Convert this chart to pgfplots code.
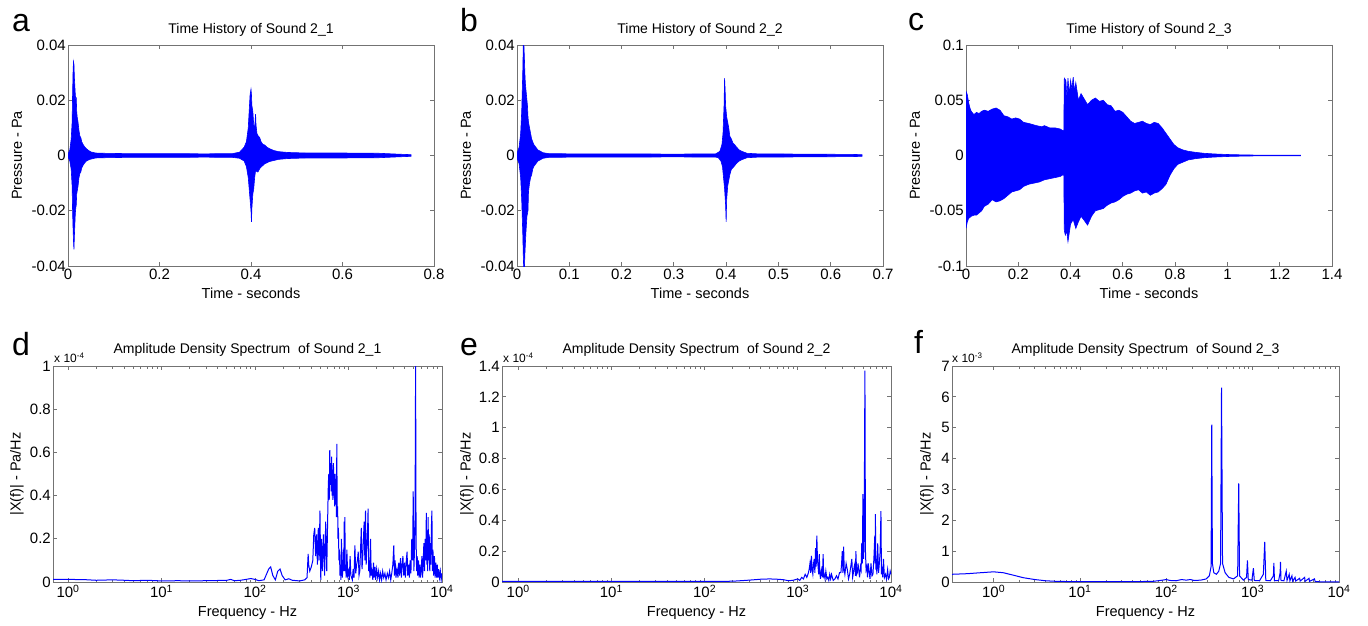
\documentclass[border=0pt]{standalone}
\usepackage{pgfplots}
\pgfplotsset{compat=1.18}
\usepackage{fontspec}
\setmainfont{Liberation Sans}
\definecolor{axgray}{rgb}{0.45,0.45,0.45}
\definecolor{mblue}{rgb}{0,0,1}
\pgfplotsset{
  mstyle/.style={
    scale only axis,
    axis line style={axgray, line width=0.9pt},
    tick style={axgray, line width=0.8pt},
    tick align=inside,
    major tick length=4pt,
    minor tick length=2.5pt,
    scaled ticks=false,
    /pgf/number format/assume math mode=true,
    ticklabel style={font=\fontsize{15}{16}\selectfont, text=black},
    yticklabel style={inner xsep=2pt},
    xticklabel style={inner ysep=3pt},
  },
  tstyle/.style={mstyle, width=366pt, height=221pt, xmin=0,
    yticklabel style={/pgf/number format/fixed, /pgf/number format/precision=2}},
  sstyle/.style={mstyle, height=216pt, xmax=10000, ymin=0,
    xtick={1,10,100,1000,10000},
    xticklabels={10\textsuperscript{0},10\textsuperscript{1},10\textsuperscript{2},10\textsuperscript{3},10\textsuperscript{4}}},
}
\begin{document}
\begin{tikzpicture}[x=1pt,y=1pt]
\path[use as bounding box] (0,0) rectangle (1368,625);
% ---------------- a ----------------
\begin{axis}[tstyle, at={(68pt,359pt)}, anchor=south west, xmax=0.8, ymin=-0.04, ymax=0.04,
  xtick={0,0.2,0.4,0.6,0.8}, ytick={-0.04,-0.02,0,0.02,0.04}]
\addplot[fill=mblue, draw=mblue, line width=0.6pt] coordinates {
(0.000,0.0005)(0.004,0.002)(0.007,0.006)(0.009,0.012)(0.010,0.022)(0.011,0.030)(0.012,0.034)(0.013,0.033)
(0.014,0.028)(0.015,0.025)(0.016,0.022)(0.017,0.020)(0.018,0.021)(0.019,0.016)(0.020,0.014)(0.022,0.012)
(0.024,0.009)(0.026,0.007)(0.028,0.0065)(0.030,0.005)(0.033,0.004)(0.036,0.0032)(0.040,0.0025)(0.045,0.0018)
(0.050,0.0013)(0.060,0.0009)(0.080,0.0008)(0.120,0.0007)(0.200,0.0007)(0.300,0.0006)(0.360,0.0007)(0.375,0.0012)
(0.385,0.003)(0.390,0.005)(0.394,0.010)(0.396,0.016)(0.398,0.022)(0.400,0.024)(0.401,0.022)(0.402,0.018)
(0.404,0.016)(0.406,0.011)(0.408,0.010)(0.410,0.015)(0.411,0.011)(0.413,0.008)(0.416,0.007)(0.419,0.0065)
(0.422,0.005)(0.426,0.004)(0.430,0.0038)(0.435,0.003)(0.440,0.0025)(0.450,0.0018)(0.460,0.0014)(0.480,0.0011)
(0.520,0.0009)(0.600,0.0009)(0.680,0.0008)(0.720,0.0005)(0.750,0.0003)
(0.750,-0.0003)(0.720,-0.0005)(0.680,-0.0008)(0.600,-0.0009)(0.520,-0.0009)(0.480,-0.0011)(0.460,-0.0014)
(0.450,-0.0018)(0.440,-0.0022)(0.430,-0.003)(0.420,-0.0045)(0.415,-0.006)(0.410,-0.0055)(0.408,-0.008)
(0.406,-0.012)(0.404,-0.014)(0.402,-0.019)(0.401,-0.024)(0.400,-0.020)(0.398,-0.016)(0.396,-0.012)(0.394,-0.008)
(0.390,-0.004)(0.385,-0.002)(0.375,-0.001)(0.360,-0.0007)(0.300,-0.0006)(0.200,-0.0007)(0.120,-0.0007)
(0.080,-0.0008)(0.060,-0.0009)(0.050,-0.0013)(0.045,-0.0016)(0.040,-0.002)(0.036,-0.0028)(0.033,-0.0035)
(0.030,-0.0045)(0.028,-0.006)(0.026,-0.0065)(0.024,-0.008)(0.022,-0.011)(0.020,-0.013)(0.019,-0.014)
(0.018,-0.018)(0.017,-0.019)(0.016,-0.021)(0.015,-0.025)(0.014,-0.029)(0.013,-0.034)(0.012,-0.031)
(0.011,-0.026)(0.010,-0.020)(0.009,-0.011)(0.007,-0.005)(0.004,-0.002)(0.000,-0.0005)
} -- cycle;
\end{axis}
% ---------------- b ----------------
\begin{axis}[tstyle, at={(517pt,359pt)}, anchor=south west, xmax=0.7, ymin=-0.04, ymax=0.04,
  xtick={0,0.1,0.2,0.3,0.4,0.5,0.6,0.7}, ytick={-0.04,-0.02,0,0.02,0.04}]
\addplot[fill=mblue, draw=mblue, line width=0.6pt] coordinates {
(0.000,0.0008)(0.004,0.003)(0.007,0.008)(0.009,0.016)(0.011,0.030)(0.012,0.040)(0.013,0.041)(0.014,0.036)
(0.015,0.030)(0.016,0.026)(0.017,0.024)(0.018,0.022)(0.019,0.020)(0.020,0.018)(0.021,0.014)(0.022,0.012)
(0.024,0.010)(0.026,0.008)(0.028,0.006)(0.030,0.005)(0.032,0.004)(0.036,0.003)(0.040,0.002)(0.045,0.0015)
(0.050,0.001)(0.060,0.0007)(0.100,0.0006)(0.200,0.0006)(0.300,0.0005)(0.380,0.0006)(0.388,0.0015)
(0.392,0.004)(0.394,0.008)(0.396,0.018)(0.397,0.028)(0.398,0.024)(0.399,0.018)(0.401,0.014)(0.403,0.012)
(0.405,0.010)(0.407,0.007)(0.410,0.006)(0.413,0.0045)(0.416,0.004)(0.420,0.003)(0.425,0.002)(0.430,0.0015)
(0.440,0.0008)(0.460,0.0006)(0.550,0.0005)(0.640,0.0004)(0.660,0.0003)
(0.660,-0.0003)(0.640,-0.0004)(0.550,-0.0005)(0.460,-0.0006)(0.440,-0.0008)(0.430,-0.0015)(0.425,-0.002)
(0.420,-0.0028)(0.415,-0.004)(0.410,-0.005)(0.407,-0.007)(0.405,-0.009)(0.403,-0.011)(0.401,-0.016)
(0.400,-0.024)(0.399,-0.018)(0.397,-0.012)(0.395,-0.008)(0.393,-0.004)(0.390,-0.002)(0.385,-0.0008)
(0.380,-0.0006)(0.300,-0.0005)(0.200,-0.0006)(0.100,-0.0006)(0.060,-0.0007)(0.050,-0.001)(0.045,-0.0015)
(0.040,-0.002)(0.036,-0.003)(0.032,-0.004)(0.030,-0.005)(0.028,-0.007)(0.026,-0.008)(0.024,-0.010)
(0.022,-0.013)(0.021,-0.020)(0.020,-0.021)(0.019,-0.022)(0.018,-0.025)(0.017,-0.028)(0.016,-0.032)
(0.015,-0.036)(0.014,-0.042)(0.013,-0.042)(0.012,-0.036)(0.011,-0.028)(0.009,-0.016)(0.007,-0.008)
(0.004,-0.003)(0.000,-0.0008)
} -- cycle;
\end{axis}
% ---------------- c ----------------
\begin{axis}[tstyle, at={(966pt,359pt)}, anchor=south west, xmax=1.4, ymin=-0.1, ymax=0.1,
  xtick={0,0.2,0.4,0.6,0.8,1,1.2,1.4}, ytick={-0.1,-0.05,0,0.05,0.1}]
\addplot[fill=mblue, draw=mblue, line width=0.6pt] coordinates {
(0.000,0.058)(0.005,0.055)(0.010,0.048)(0.015,0.043)(0.020,0.040)(0.030,0.037)(0.040,0.039)(0.050,0.038)
(0.060,0.040)(0.070,0.041)(0.085,0.040)(0.100,0.042)(0.115,0.043)(0.130,0.041)(0.145,0.036)(0.160,0.035)
(0.175,0.033)(0.190,0.034)(0.205,0.033)(0.220,0.030)(0.240,0.029)(0.255,0.028)(0.270,0.027)(0.290,0.026)
(0.300,0.027)(0.320,0.025)(0.340,0.025)(0.360,0.024)(0.374,0.022)(0.376,0.070)(0.382,0.068)(0.386,0.052)
(0.390,0.070)(0.395,0.055)(0.400,0.068)(0.405,0.060)(0.410,0.071)(0.415,0.058)(0.420,0.066)(0.430,0.050)
(0.440,0.056)(0.450,0.052)(0.465,0.046)(0.480,0.050)(0.495,0.052)(0.510,0.049)(0.525,0.050)(0.540,0.046)
(0.555,0.045)(0.570,0.040)(0.585,0.041)(0.600,0.039)(0.615,0.035)(0.630,0.031)(0.645,0.029)(0.660,0.030)
(0.675,0.031)(0.690,0.029)(0.705,0.028)(0.720,0.030)(0.735,0.029)(0.750,0.025)(0.765,0.020)(0.780,0.015)
(0.795,0.010)(0.810,0.007)(0.830,0.005)(0.850,0.0038)(0.880,0.0028)(0.910,0.002)(0.950,0.0014)(1.000,0.0009)
(1.050,0.0006)(1.100,0.0004)(1.200,0.0003)(1.280,0.0002)
(1.280,-0.0002)(1.200,-0.0003)(1.100,-0.0004)(1.050,-0.0006)(1.000,-0.0009)(0.950,-0.0014)(0.910,-0.002)
(0.880,-0.0028)(0.850,-0.004)(0.830,-0.006)(0.810,-0.008)(0.795,-0.012)(0.780,-0.018)(0.765,-0.026)
(0.750,-0.030)(0.735,-0.033)(0.720,-0.034)(0.705,-0.036)(0.690,-0.033)(0.675,-0.034)(0.660,-0.031)
(0.645,-0.032)(0.630,-0.034)(0.615,-0.035)(0.600,-0.037)(0.585,-0.040)(0.570,-0.042)(0.555,-0.043)
(0.540,-0.045)(0.525,-0.048)(0.510,-0.049)(0.495,-0.050)(0.480,-0.055)(0.465,-0.063)(0.450,-0.058)
(0.440,-0.055)(0.430,-0.060)(0.420,-0.066)(0.410,-0.058)(0.400,-0.062)(0.395,-0.070)(0.390,-0.078)
(0.385,-0.068)(0.380,-0.072)(0.376,-0.068)(0.374,-0.017)(0.360,-0.019)(0.340,-0.020)(0.320,-0.021)
(0.300,-0.022)(0.280,-0.024)(0.260,-0.025)(0.240,-0.026)(0.220,-0.028)(0.205,-0.031)(0.190,-0.032)
(0.175,-0.033)(0.160,-0.036)(0.145,-0.039)(0.130,-0.041)(0.115,-0.042)(0.100,-0.040)(0.085,-0.044)
(0.070,-0.046)(0.060,-0.050)(0.050,-0.052)(0.040,-0.054)(0.030,-0.054)(0.020,-0.055)(0.010,-0.057)
(0.005,-0.060)(0.000,-0.066)
} -- cycle;
\end{axis}
% ---------------- d ----------------
\begin{semilogxaxis}[sstyle, at={(53pt,43pt)}, anchor=south west, width=389pt, xmin=0.69, ymax=1,
  ytick={0,0.2,0.4,0.6,0.8,1}]
\addplot[mblue, line width=1pt] coordinates {
(0.69,0.012)(1,0.012)(1.5,0.011)(2,0.008)(3,0.010)(4,0.008)(5,0.006)(7,0.008)(10,0.005)(15,0.006)(20,0.005)
(30,0.006)(40,0.007)(50,0.008)(55,0.012)(60,0.006)(70,0.008)(80,0.012)(90,0.016)(100,0.012)(110,0.006)
(125,0.01)(140,0.06)(147,0.07)(155,0.03)(165,0.01)(175,0.05)(185,0.06)(195,0.03)(210,0.01)(230,0.015)
(250,0.008)(300,0.005)(340,0.01)(360,0.02)(370,0.13)(375,0.08)(385,0.05)(400,0.07)(415,0.1)(425,0.22)
(435,0.25)(445,0.12)(455,0.22)(465,0.08)(475,0.25)(485,0.1)(495,0.33)(505,0.01)(515,0.2)(525,0.05)
(540,0.22)(555,0.03)(570,0.28)(585,0.05)(600,0.32)(608,0.45)(615,0.5)(622,0.38)(630,0.61)(638,0.45)
(645,0.55)(652,0.42)(660,0.58)(668,0.40)(675,0.52)(682,0.38)(690,0.55)(697,0.40)(705,0.50)(712,0.35)
(720,0.5)(727,0.38)(735,0.45)(742,0.30)(750,0.64)(757,0.30)(765,0.35)(772,0.20)(780,0.25)(790,0.10)
(800,0.15)(810,0.03)(820,0.08)(830,0.01)(840,0.2)(850,0.05)(860,0.02)(870,0.08)(880,0.15)(890,0.05)
(900,0.28)(908,0.10)(915,0.30)(922,0.05)(930,0.08)(945,0.02)(960,0.15)(980,0.03)(1000,0.05)(1020,0.01)
(1040,0.12)(1060,0.03)(1080,0.02)(1100,0.01)(1120,0.06)(1145,0.02)(1170,0.17)(1195,0.04)(1220,0.08)
(1245,0.10)(1270,0.14)(1295,0.03)(1320,0.05)(1345,0.15)(1370,0.25)(1395,0.06)(1420,0.12)(1445,0.20)
(1470,0.28)(1495,0.10)(1520,0.33)(1545,0.08)(1570,0.15)(1595,0.22)(1620,0.34)(1645,0.05)(1670,0.1)
(1695,0.02)(1720,0.2)(1750,0.03)(1780,0.05)(1820,0.01)(1850,0.09)(1880,0.02)(1920,0.07)(1950,0.01)
(2000,0.06)(2050,0.02)(2100,0.05)(2150,0.01)(2200,0.04)(2260,0.01)(2320,0.05)(2380,0.02)(2450,0.04)
(2520,0.01)(2600,0.04)(2680,0.02)(2750,0.05)(2830,0.01)(2900,0.04)(2980,0.08)(3050,0.17)(3100,0.03)
(3150,0.1)(3220,0.02)(3300,0.06)(3380,0.02)(3450,0.09)(3520,0.03)(3600,0.11)(3680,0.02)(3750,0.08)
(3820,0.12)(3900,0.03)(3980,0.09)(4060,0.02)(4150,0.1)(4230,0.14)(4300,0.03)(4400,0.08)(4480,0.02)
(4560,0.1)(4650,0.04)(4750,0.2)(4850,0.1)(4920,0.42)(5000,0.05)(5080,0.15)(5150,0.3)(5220,1.0)
(5280,0.2)(5350,0.05)(5430,0.12)(5500,0.03)(5600,0.1)(5700,0.02)(5800,0.08)(5900,0.02)(6000,0.06)
(6100,0.12)(6200,0.02)(6300,0.1)(6400,0.18)(6500,0.05)(6600,0.2)(6700,0.1)(6800,0.32)(6880,0.08)
(6950,0.2)(7030,0.05)(7100,0.3)(7200,0.1)(7300,0.22)(7400,0.05)(7500,0.18)(7600,0.08)(7700,0.25)
(7800,0.33)(7900,0.05)(8000,0.15)(8150,0.03)(8300,0.12)(8450,0.02)(8600,0.09)(8750,0.02)(8900,0.08)
(9050,0.02)(9200,0.06)(9400,0.02)(9600,0.05)(9800,0.01)(10000,0.04)
};
\end{semilogxaxis}
% ---------------- e ----------------
\begin{semilogxaxis}[sstyle, at={(502pt,43pt)}, anchor=south west, width=389pt, xmin=0.67, ymax=1.4,
  ytick={0,0.2,0.4,0.6,0.8,1,1.2,1.4}]
\addplot[mblue, line width=1pt] coordinates {
(0.67,0.004)(1,0.004)(10,0.004)(100,0.004)(200,0.005)(300,0.012)(400,0.018)(500,0.02)(600,0.018)
(700,0.015)(800,0.008)(900,0.012)(1000,0.02)(1050,0.01)(1100,0.03)(1150,0.02)(1200,0.05)(1250,0.03)
(1300,0.06)(1330,0.09)(1350,0.12)(1375,0.06)(1400,0.17)(1425,0.08)(1450,0.05)(1475,0.12)(1500,0.15)
(1525,0.06)(1550,0.22)(1575,0.10)(1600,0.3)(1625,0.15)(1650,0.1)(1675,0.05)(1700,0.18)(1725,0.06)
(1750,0.02)(1775,0.06)(1800,0.08)(1835,0.03)(1870,0.18)(1895,0.04)(1920,0.05)(1960,0.02)(2000,0.07)
(2050,0.02)(2100,0.03)(2150,0.01)(2200,0.05)(2250,0.02)(2300,0.05)(2400,0.01)(2500,0.02)(2600,0.04)
(2700,0.02)(2800,0.06)(2900,0.06)(2950,0.12)(3000,0.2)(3050,0.06)(3100,0.23)(3150,0.08)(3200,0.05)
(3300,0.12)(3400,0.08)(3500,0.02)(3600,0.05)(3700,0.10)(3800,0.15)(3880,0.03)(3950,0.06)(4030,0.10)
(4100,0.12)(4150,0.04)(4200,0.2)(4280,0.05)(4350,0.06)(4430,0.12)(4500,0.08)(4600,0.03)(4700,0.1)
(4780,0.08)(4850,0.25)(4920,0.12)(5000,0.57)(5080,0.15)(5150,0.3)(5250,1.37)(5320,0.2)(5400,0.08)
(5500,0.1)(5600,0.03)(5700,0.12)(5800,0.08)(5950,0.02)(6100,0.12)(6250,0.04)(6400,0.05)(6550,0.15)
(6700,0.3)(6750,0.12)(6800,0.44)(6880,0.08)(6950,0.15)(7050,0.05)(7200,0.25)(7350,0.06)(7500,0.12)
(7650,0.2)(7800,0.46)(7900,0.05)(8000,0.1)(8150,0.03)(8300,0.15)(8500,0.03)(8700,0.05)(8950,0.02)
(9200,0.08)(9400,0.02)(9600,0.03)(9800,0.07)(10000,0.05)
};
\end{semilogxaxis}
% ---------------- f ----------------
\begin{semilogxaxis}[sstyle, at={(952pt,43pt)}, anchor=south west, width=387pt, xmin=0.33, ymax=7,
  ytick={0,1,2,3,4,5,6,7}]
\addplot[mblue, line width=1pt] coordinates {
(0.33,0.25)(0.5,0.27)(0.7,0.30)(1.0,0.33)(1.3,0.30)(1.7,0.22)(2.2,0.14)(3,0.08)(4,0.04)(5,0.025)(7,0.015)
(10,0.01)(20,0.01)(40,0.012)(70,0.02)(90,0.06)(100,0.08)(110,0.05)(130,0.04)(150,0.08)(170,0.06)(190,0.08)
(210,0.05)(250,0.06)(290,0.1)(315,0.2)(330,0.5)(336,5.1)(342,0.6)(355,0.3)(380,0.25)(405,0.35)(425,0.6)
(436,6.3)(448,0.6)(480,0.3)(530,0.15)(600,0.1)(670,0.2)(690,3.2)(705,0.2)(780,0.06)(850,0.15)(870,0.7)
(890,0.08)(980,0.06)(1020,0.45)(1045,0.05)(1200,0.04)(1330,0.25)(1380,1.3)(1420,0.05)(1600,0.04)
(1740,0.2)(1760,0.62)(1790,0.04)(2000,0.05)(2080,0.3)(2100,0.65)(2130,0.05)(2300,0.04)(2450,0.35)
(2500,0.05)(2650,0.25)(2700,0.04)(2850,0.2)(2900,0.03)(3100,0.15)(3150,0.03)(3500,0.12)(3550,0.03)
(4000,0.15)(4050,0.02)(4500,0.12)(4550,0.02)(5200,0.1)(5300,0.01)(7000,0.005)(10000,0.002)
};
\end{semilogxaxis}
% ---------------- texts ----------------
\begin{scope}[every node/.style={inner sep=0pt}]
\node[anchor=base west, font=\fontsize{32}{34}\selectfont] at (12,593) {a};
\node[anchor=base west, font=\fontsize{32}{34}\selectfont] at (460,593) {b};
\node[anchor=base west, font=\fontsize{32}{34}\selectfont] at (908,594) {c};
\node[anchor=base west, font=\fontsize{32}{34}\selectfont] at (12,270) {d};
\node[anchor=base west, font=\fontsize{32}{34}\selectfont] at (460,270) {e};
\node[anchor=base west, font=\fontsize{32}{34}\selectfont] at (914,272) {f};
\node[font=\fontsize{14}{16}\selectfont] at (251,595) {Time History of Sound 2\_1};
\node[font=\fontsize{14}{16}\selectfont] at (700,595) {Time History of Sound 2\_2};
\node[font=\fontsize{14}{16}\selectfont] at (1149,595) {Time History of Sound 2\_3};
\node[font=\fontsize{14.5}{16}\selectfont] at (251,332) {Time - seconds};
\node[font=\fontsize{14.5}{16}\selectfont] at (700,332) {Time - seconds};
\node[font=\fontsize{14.5}{16}\selectfont] at (1149,332) {Time - seconds};
\node[rotate=90, font=\fontsize{14.5}{16}\selectfont] at (17,469.5) {Pressure - Pa};
\node[rotate=90, font=\fontsize{14.5}{16}\selectfont] at (466,469.5) {Pressure - Pa};
\node[rotate=90, font=\fontsize{14.5}{16}\selectfont] at (915,469.5) {Pressure - Pa};
\node[font=\fontsize{14}{16}\selectfont] at (247.5,275) {Amplitude Density Spectrum\ \ of Sound 2\_1};
\node[font=\fontsize{14}{16}\selectfont] at (696.5,275) {Amplitude Density Spectrum\ \ of Sound 2\_2};
\node[font=\fontsize{14}{16}\selectfont] at (1145.5,275) {Amplitude Density Spectrum\ \ of Sound 2\_3};
\node[font=\fontsize{14.5}{16}\selectfont] at (247.5,12) {Frequency - Hz};
\node[font=\fontsize{14.5}{16}\selectfont] at (696.5,12) {Frequency - Hz};
\node[font=\fontsize{14.5}{16}\selectfont] at (1145.5,12) {Frequency - Hz};
\node[rotate=90, font=\fontsize{14.5}{16}\selectfont] at (17,151) {|X(f)| - Pa/Hz};
\node[rotate=90, font=\fontsize{14.5}{16}\selectfont] at (467,151) {|X(f)| - Pa/Hz};
\node[rotate=90, font=\fontsize{14.5}{16}\selectfont] at (927,151) {|X(f)| - Pa/Hz};
\node[anchor=west, font=\fontsize{12}{14}\selectfont] at (54,267) {x 10\textsuperscript{-4}};
\node[anchor=west, font=\fontsize{12}{14}\selectfont] at (503,267) {x 10\textsuperscript{-4}};
\node[anchor=west, font=\fontsize{12}{14}\selectfont] at (952,267) {x 10\textsuperscript{-3}};
\end{scope}
\end{tikzpicture}
\end{document}
